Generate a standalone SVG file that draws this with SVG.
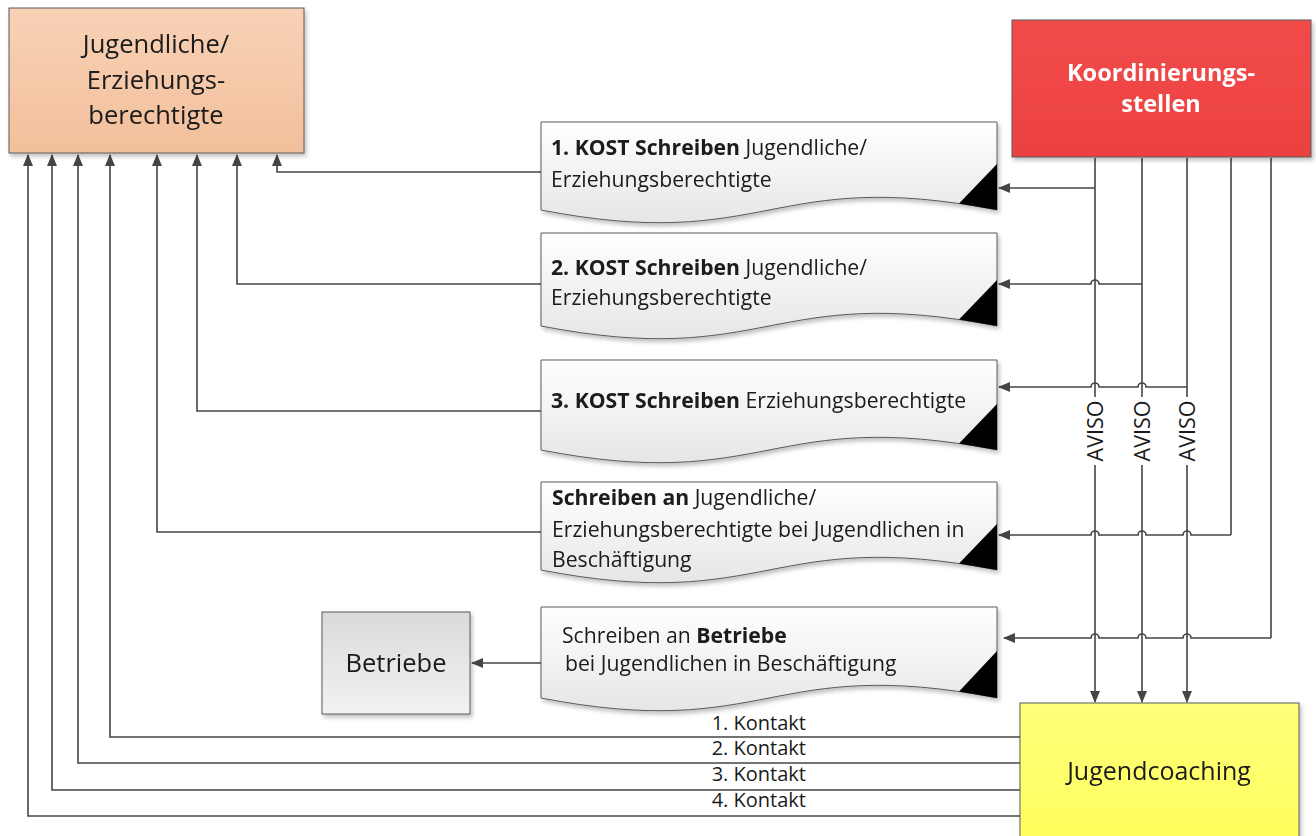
<svg xmlns="http://www.w3.org/2000/svg" width="1316" height="836" viewBox="0 0 1316 836">
<style>
  text { font-family: "Open Sans", Lato, "Liberation Sans", sans-serif; fill: #1a1a1a; }
  .b { font-weight: bold; }
  .box { stroke: #5a5a5a; stroke-width: 1; }
  .doc { stroke: #5a5a5a; stroke-width: 1; fill: url(#gDoc); }
  .tri { fill: #000; }
  .c { fill: none; stroke: #454545; stroke-width: 1.6; }
  .ca { fill: none; stroke: #454545; stroke-width: 1.6; marker-end: url(#arr); }
  .dt { font-size: 21.2px; }
  .kt { font-size: 20px; }
  .av { font-size: 21.5px; }
</style>
<defs>
  <marker id="arr" markerWidth="13" markerHeight="10" refX="11" refY="5" orient="auto" markerUnits="userSpaceOnUse">
    <path d="M0,0 L12,5 L0,10 Z" fill="#454545"/>
  </marker>
  <linearGradient id="gJ" x1="0" y1="0" x2="0" y2="1"><stop offset="0" stop-color="#f8d2b6"/><stop offset="1" stop-color="#f2bf9b"/></linearGradient>
  <linearGradient id="gK" x1="0" y1="0" x2="0" y2="1"><stop offset="0" stop-color="#f24a4a"/><stop offset="1" stop-color="#ec4141"/></linearGradient>
  <linearGradient id="gDoc" x1="0" y1="0" x2="0" y2="1"><stop offset="0" stop-color="#ffffff"/><stop offset="1" stop-color="#e6e6e6"/></linearGradient>
  <linearGradient id="gB" x1="0" y1="0" x2="0" y2="1"><stop offset="0" stop-color="#dadada"/><stop offset="1" stop-color="#f2f2f2"/></linearGradient>
  <linearGradient id="gY" x1="0" y1="0" x2="0" y2="1"><stop offset="0" stop-color="#ffff7a"/><stop offset="1" stop-color="#ffff5e"/></linearGradient>
  <filter id="sh" x="-5%" y="-5%" width="115%" height="125%">
    <feGaussianBlur in="SourceAlpha" stdDeviation="2"/>
    <feOffset dx="2" dy="3" result="o"/>
    <feComponentTransfer><feFuncA type="linear" slope="0.25"/></feComponentTransfer>
    <feMerge><feMergeNode/><feMergeNode in="SourceGraphic"/></feMerge>
  </filter>
</defs>
<rect width="1316" height="836" fill="#ffffff"/>

<g id="connectors">
  <path class="ca" d="M541,172 H277 V155"/>
  <path class="ca" d="M541,284 H237 V155"/>
  <path class="ca" d="M541,411 H197 V155"/>
  <path class="ca" d="M541,532 H157 V155"/>
  <path class="ca" d="M541,663 H472"/>
  <path class="ca" d="M1021,737 H110 V155"/>
  <path class="ca" d="M1021,763 H78 V155"/>
  <path class="ca" d="M1021,790 H52 V155"/>
  <path class="ca" d="M1021,816 H28 V155"/>
  <path class="ca" d="M1095,158 V702"/>
  <path class="ca" d="M1142,158 V702"/>
  <path class="ca" d="M1187,158 V702"/>
  <path class="c" d="M1231,158 V535"/>
  <path class="c" d="M1271,158 V638"/>
  <path class="ca" d="M1095,188 H999"/>
  <path class="ca" d="M1142,284 H1099 a4,4 0 0 0 -8,0 H999"/>
  <path class="ca" d="M1187,387 H1146 a4,4 0 0 0 -8,0 H1099 a4,4 0 0 0 -8,0 H999"/>
  <path class="ca" d="M1231,535 H1191 a4,4 0 0 0 -8,0 H1146 a4,4 0 0 0 -8,0 H1099 a4,4 0 0 0 -8,0 H999"/>
  <path class="ca" d="M1271,638 H1191 a4,4 0 0 0 -8,0 H1146 a4,4 0 0 0 -8,0 H1099 a4,4 0 0 0 -8,0 H1004"/>
  <g transform="translate(1095,431) rotate(-90)"><rect x="-34" y="-11" width="68" height="22" fill="#ffffff"/><text class="av" x="0" y="7.5" text-anchor="middle">AVISO</text></g>
  <g transform="translate(1142,431) rotate(-90)"><rect x="-34" y="-11" width="68" height="22" fill="#ffffff"/><text class="av" x="0" y="7.5" text-anchor="middle">AVISO</text></g>
  <g transform="translate(1187,431) rotate(-90)"><rect x="-34" y="-11" width="68" height="22" fill="#ffffff"/><text class="av" x="0" y="7.5" text-anchor="middle">AVISO</text></g>
  <text class="kt" x="806" y="730" text-anchor="end">1. Kontakt</text>
  <text class="kt" x="806" y="755" text-anchor="end">2. Kontakt</text>
  <text class="kt" x="806" y="781" text-anchor="end">3. Kontakt</text>
  <text class="kt" x="806" y="807" text-anchor="end">4. Kontakt</text>
</g>

<g id="jugendliche" filter="url(#sh)">
  <rect class="box" x="9" y="8" width="295" height="145" fill="url(#gJ)"/>
  <text x="156" y="53" text-anchor="middle" font-size="25.5">Jugendliche/</text>
  <text x="156" y="89" text-anchor="middle" font-size="25.5">Erziehungs-</text>
  <text x="156" y="124" text-anchor="middle" font-size="25.5">berechtigte</text>
</g>

<g id="koordinierungsstellen" filter="url(#sh)">
  <rect class="box" x="1012" y="20" width="299" height="137" fill="url(#gK)"/>
  <text x="1161" y="81" text-anchor="middle" font-size="23.5" class="b" style="fill:#ffffff">Koordinierungs-</text>
  <text x="1161" y="112" text-anchor="middle" font-size="23.5" class="b" style="fill:#ffffff">stellen</text>
</g>

<g id="doc1" filter="url(#sh)">
  <path class="doc" d="M541,122 H997 V210 C769,166 769,254 541,210 Z"/>
  <polygon class="tri" points="997,164 997,210 959,203.5"/>
  <text class="dt" x="551" y="155"><tspan class="b">1. KOST Schreiben</tspan> Jugendliche/</text>
  <text class="dt" x="551" y="187">Erziehungsberechtigte</text>
</g>

<g id="doc2" filter="url(#sh)">
  <path class="doc" d="M541,233 H997 V326 C769,282 769,370 541,326 Z"/>
  <polygon class="tri" points="997,280 997,326 959,319.5"/>
  <text class="dt" x="551" y="275"><tspan class="b">2. KOST Schreiben</tspan> Jugendliche/</text>
  <text class="dt" x="551" y="305">Erziehungsberechtigte</text>
</g>

<g id="doc3" filter="url(#sh)">
  <path class="doc" d="M541,360 H997 V450 C769,406 769,494 541,450 Z"/>
  <polygon class="tri" points="997,404 997,450 959,443.5"/>
  <text class="dt" x="551" y="408"><tspan class="b">3. KOST Schreiben</tspan> Erziehungsberechtigte</text>
</g>

<g id="doc4" filter="url(#sh)">
  <path class="doc" d="M541,482 H997 V570 C769,526 769,614 541,570 Z"/>
  <polygon class="tri" points="997,524 997,570 959,563.5"/>
  <text class="dt" x="552" y="505"><tspan class="b">Schreiben an</tspan> Jugendliche/</text>
  <text class="dt" x="552" y="537">Erziehungsberechtigte bei Jugendlichen in</text>
  <text class="dt" x="552" y="567">Beschäftigung</text>
</g>

<g id="doc5" filter="url(#sh)">
  <path class="doc" d="M541,607 H997 V698 C769,654 769,742 541,698 Z"/>
  <polygon class="tri" points="997,651 997,698 959,691.5"/>
  <text class="dt" x="562" y="643">Schreiben an <tspan class="b">Betriebe</tspan></text>
  <text class="dt" x="565" y="671">bei Jugendlichen in Beschäftigung</text>
</g>

<g id="betriebe" filter="url(#sh)">
  <rect class="box" x="322" y="612" width="148" height="102" fill="url(#gB)"/>
  <text x="396" y="672" text-anchor="middle" font-size="25.5">Betriebe</text>
</g>

<g id="jugendcoaching" filter="url(#sh)">
  <rect class="box" x="1020" y="703" width="279" height="140" fill="url(#gY)"/>
  <text x="1159" y="780" text-anchor="middle" font-size="25">Jugendcoaching</text>
</g>
</svg>
